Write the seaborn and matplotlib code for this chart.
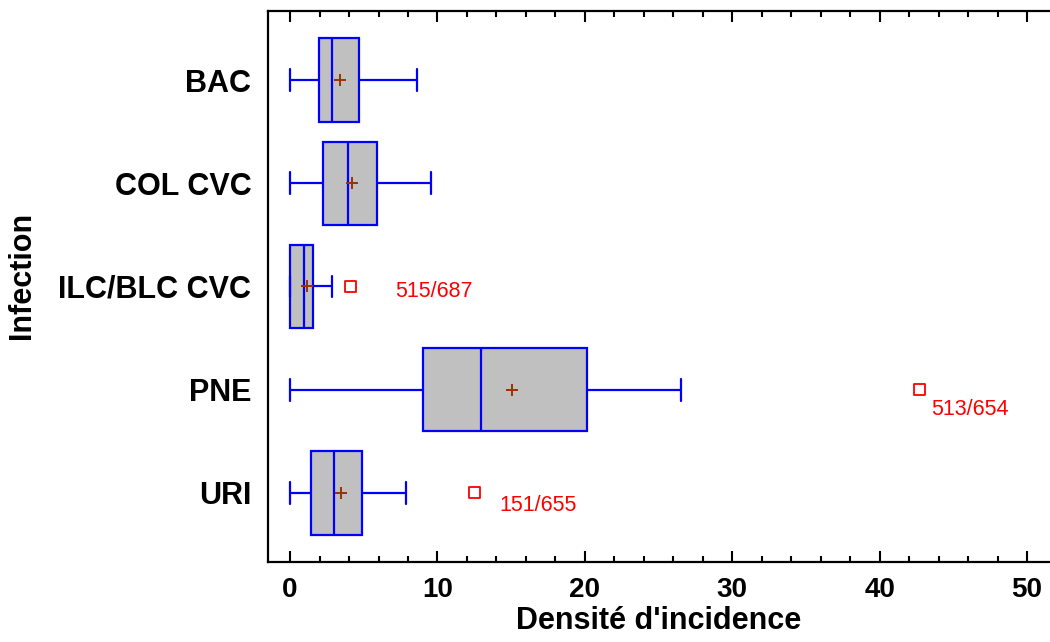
import numpy as np
import pandas as pd
import matplotlib
matplotlib.use("Agg")
import matplotlib.pyplot as plt
from matplotlib.ticker import MultipleLocator
import seaborn as sns

# ---- data ----
categories = ["BAC", "COL CVC", "ILC/BLC CVC", "PNE", "URI"]
whisker_low = [0.0, 0.0, 0.0, 0.0, 0.0]
q1 = [1.95, 2.24, 0.0, 9.02, 1.40]
median = [2.87, 3.91, 0.97, 12.94, 2.96]
q3 = [4.66, 5.92, 1.54, 20.15, 4.88]
whisker_high = [8.62, 9.54, 2.87, 26.5, 7.89]
means = [3.41, 4.18, 1.13, 15.04, 3.46]

outlier_cats = ["ILC/BLC CVC", "PNE", "URI"]
outlier_vals = [4.12, 42.72, 12.5]
outlier_labels = ["515/687", "513/654", "151/655"]

x_label = "Densité d'incidence"
y_label = "Infection"

# ---- build tables ----
rows = []
for c, a, b, m, d, e in zip(categories, whisker_low, q1, median, q3, whisker_high):
    for v in (a, b, m, d, e):
        rows.append({"Infection": c, "value": v})
df = pd.DataFrame(rows)
pos = {c: i for i, c in enumerate(categories)}
df_mean = pd.DataFrame({"y": [pos[c] for c in categories], "x": means})
df_out = pd.DataFrame({"y": [pos[c] for c in outlier_cats], "x": outlier_vals})

# ---- style ----
sns.set_theme(style="white")
plt.rcParams["font.family"] = ["Liberation Sans", "DejaVu Sans"]
plt.rcParams["text.color"] = "black"
plt.rcParams["axes.labelcolor"] = "black"
plt.rcParams["xtick.color"] = "black"
plt.rcParams["ytick.color"] = "black"

fig = plt.figure(figsize=(10.5, 6.42), dpi=100)
ax = fig.add_axes([268 / 1050, 1 - 562 / 642, 782 / 1050, 551 / 642])

sns.boxplot(data=df, x="value", y="Infection", order=categories, orient="h",
            whis=(0, 100), width=0.81, color="#C0C0C0", linecolor="#0000FF",
            linewidth=1.6, saturation=1, showfliers=False, capwidths=0.21, ax=ax)

sns.scatterplot(data=df_mean, x="x", y="y", marker="+", color="#993300",
                s=70, linewidth=1.4, ax=ax, zorder=5)
sns.scatterplot(data=df_out, x="x", y="y", marker="s", color="#FF0000",
                facecolor="none", edgecolor="#FF0000", s=60, linewidth=1.3,
                ax=ax, zorder=5)

# annotation placement offsets (layout only)
label_dx = [3.0, 0.8, 1.7]
label_dy = [0.05, 0.19, 0.12]
for c, v, t, dx, dy in zip(outlier_cats, outlier_vals, outlier_labels, label_dx, label_dy):
    ax.text(v + dx, pos[c] + dy, t, color="#FF0000", fontsize=15.5,
            ha="left", va="center")

ax.set_xlim(-1.5, 51.56)
ax.set_ylim(4.67, -0.67)
ax.set_yticks(range(len(categories)))
ax.set_yticklabels(categories)

ax.xaxis.set_major_locator(MultipleLocator(10))
ax.xaxis.set_minor_locator(MultipleLocator(2))
ax.tick_params(axis="x", which="both", direction="in", top=True, bottom=True,
               colors="black", width=1.5)
ax.tick_params(axis="x", which="major", length=8, pad=11, labelsize=20)
ax.tick_params(axis="x", which="minor", length=4.5)
ax.tick_params(axis="y", length=0, pad=12, labelsize=22, colors="black")
for lab in ax.get_xticklabels() + ax.get_yticklabels():
    lab.set_fontweight("bold")

for s in ("left", "bottom", "top"):
    ax.spines[s].set_visible(True)
    ax.spines[s].set_color("black")
    ax.spines[s].set_linewidth(1.6)
ax.spines["right"].set_visible(False)

ax.set_xlabel(x_label, fontsize=22, fontweight="bold", color="black")
ax.set_ylabel(y_label, fontsize=22, fontweight="bold", color="black")
ax.xaxis.set_label_coords(0.5, -0.08)
ax.yaxis.set_label_coords(-0.296, 0.52)

fig.savefig("out.png", dpi=100)
